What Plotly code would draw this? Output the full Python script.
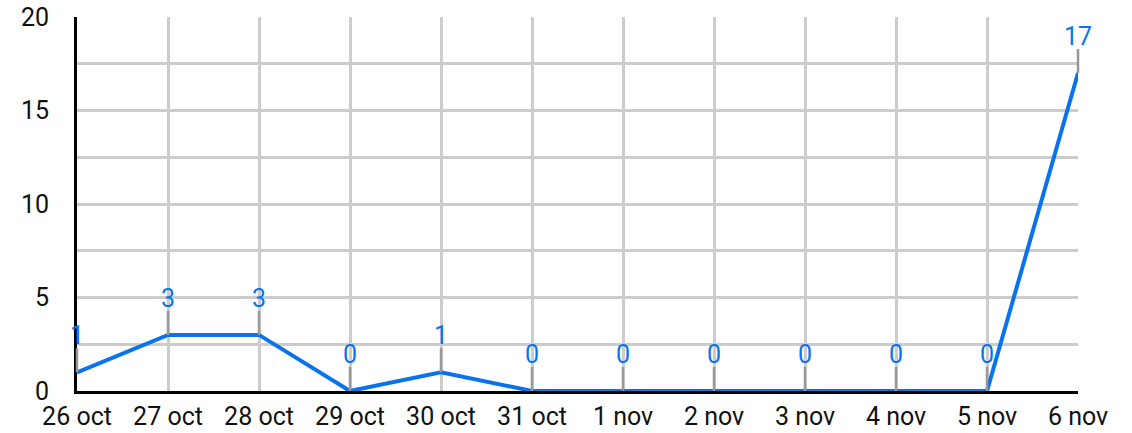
import plotly.graph_objects as go

categories = ["26 oct", "27 oct", "28 oct", "29 oct", "30 oct", "31 oct",
              "1 nov", "2 nov", "3 nov", "4 nov", "5 nov", "6 nov"]
values = [1, 3, 3, 0, 1, 0, 0, 0, 0, 0, 0, 17]
y_ticks = [0, 5, 10, 15, 20]

xpos = list(range(len(categories)))
blue = "#0a73eb"

fig = go.Figure()
fig.add_trace(go.Scatter(x=xpos, y=values, mode="lines",
                         line=dict(color=blue, width=4), hoverinfo="skip"))

for x, v in zip(xpos, values):
    # gray leader line
    fig.add_annotation(x=x, y=v, text=" ", showarrow=True, arrowhead=0,
                       arrowwidth=2.5, arrowcolor="#999999", ax=0, ay=-24,
                       yanchor="bottom", standoff=0, font=dict(size=1),
                       borderpad=0)
    # value label
    fig.add_annotation(x=x, y=v, text=str(v), showarrow=False,
                       yanchor="bottom", yshift=21,
                       font=dict(color=blue, size=25, family="Roboto"),
                       borderpad=0)

fig.update_xaxes(range=[0, 11], tickvals=xpos, ticktext=categories,
                 showgrid=True, gridcolor="#cccccc", gridwidth=3,
                 showline=True, linecolor="black", linewidth=3,
                 zeroline=False, ticks="", fixedrange=True, automargin=False,
                 ticklabelstandoff=1, ticklabeloverflow="allow")
fig.update_yaxes(range=[0, 20], tickvals=y_ticks, showgrid=True,
                 gridcolor="#cccccc", gridwidth=3,
                 minor=dict(dtick=2.5, showgrid=True, gridcolor="#cccccc", gridwidth=3),
                 showline=True, linecolor="black", linewidth=3,
                 zeroline=False, ticks="", ticklabelstandoff=20, automargin=False,
                 ticklabeloverflow="allow", fixedrange=True)

fig.update_layout(width=1132, height=433, margin=dict(l=77, r=54, t=17, b=42),
                  plot_bgcolor="white", paper_bgcolor="white", showlegend=False,
                  hovermode=False,
                  font=dict(family="Roboto", size=25, color="#111111"))

fig.write_html("out.html", config={"displayModeBar": False},
               post_script="document.body.style.margin='0';")
